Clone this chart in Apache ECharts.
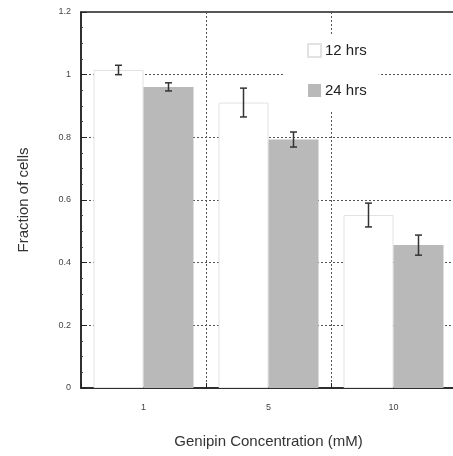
<!DOCTYPE html>
<html><head><meta charset="utf-8">
<script src="https://cdn.jsdelivr.net/npm/echarts@6/dist/echarts.min.js"></script>
<style>html,body{margin:0;padding:0;background:#fff;overflow:hidden}#c{width:456px;height:456px}</style>
</head><body><div id="c"></div>
<script>
var categories = ['1', '5', '10'];
var seriesNames = ['12 hrs', '24 hrs'];
var values12 = [1.015, 0.911, 0.552];
var errors12 = [0.015, 0.046, 0.038];
var values24 = [0.961, 0.793, 0.456];
var errors24 = [0.013, 0.024, 0.032];
var yTicks = [0, 0.2, 0.4, 0.6, 0.8, 1, 1.2];

var errData = [];
values12.forEach(function (v, i) { errData.push([i, v, errors12[i], -1]); });
values24.forEach(function (v, i) { errData.push([i, v, errors24[i], 1]); });

var chart = echarts.init(document.getElementById('c'), null, {renderer: 'canvas'});
chart.setOption({
  animation: false,
  backgroundColor: '#fff',
  textStyle: {fontFamily: 'Liberation Sans, Arial, sans-serif'},
  grid: {left: 81, top: 12, right: 0, bottom: 68, show: true, borderColor: '#222', borderWidth: 1.5, containLabel: false},
  legend: {
    orient: 'vertical', left: 285, top: 36, backgroundColor: '#fff',
    padding: [7, 12, 12, 22], itemGap: 25, itemWidth: 13, itemHeight: 13,
    icon: 'rect', textStyle: {fontSize: 15, color: '#222', fontFamily: 'Liberation Sans, Arial, sans-serif', padding: [0, 0, 0, -1]},
    data: seriesNames
  },
  xAxis: {
    type: 'category', data: categories,
    axisLine: {lineStyle: {color: '#222', width: 1.5}},
    axisTick: {show: true, inside: true, length: 5, lineStyle: {color: '#222'}},
    axisLabel: {fontSize: 9, color: '#444', margin: 15},
    splitLine: {show: true, lineStyle: {color: '#555', type: [2, 2], width: 1}},
    name: 'Genipin Concentration (mM)', nameLocation: 'middle', nameGap: 46,
    nameTextStyle: {fontSize: 15, color: '#333'}
  },
  yAxis: {
    type: 'value', min: 0, max: 1.2, interval: 0.2,
    axisLine: {show: true, lineStyle: {color: '#222', width: 1.5}},
    axisTick: {show: true, inside: true, length: 6, lineStyle: {color: '#222'}},
    minorTick: {show: true, splitNumber: 4, length: 2, lineStyle: {color: '#444'}},
    axisLabel: {fontSize: 9, color: '#444', margin: 10, formatter: function (v) {
      for (var i = 0; i < yTicks.length; i++) { if (Math.abs(yTicks[i] - v) < 1e-6) return String(yTicks[i]); }
      return '';
    }},
    splitLine: {show: true, lineStyle: {color: '#555', type: [2, 2], width: 1}},
    name: 'Fraction of cells', nameLocation: 'middle', nameGap: 50,
    nameTextStyle: {fontSize: 15, color: '#333'}
  },
  series: [
    {name: seriesNames[0], type: 'bar', data: values12, barWidth: 50, barGap: '0%',
     itemStyle: {color: '#fff', borderColor: '#e2e2e2', borderWidth: 1}},
    {name: seriesNames[1], type: 'bar', data: values24, barWidth: 50, barGap: '0%',
     itemStyle: {color: '#b9b9b9', borderColor: '#b9b9b9', borderWidth: 0}},
    {type: 'custom', data: errData, z: 10,
     renderItem: function (params, api) {
       var idx = api.value(0), v = api.value(1), e = api.value(2), side = api.value(3);
       var band = api.size([1, 0])[0];
       var off = side * band * 0.2;
       var top = api.coord([idx, v + e]);
       var bot = api.coord([idx, v - e]);
       var x = top[0] + off;
       var cw = 3.5;
       var st = {stroke: '#333', lineWidth: 1.5};
       return {type: 'group', children: [
         {type: 'line', shape: {x1: x, y1: top[1], x2: x, y2: bot[1]}, style: st},
         {type: 'line', shape: {x1: x - cw, y1: top[1], x2: x + cw, y2: top[1]}, style: st},
         {type: 'line', shape: {x1: x - cw, y1: bot[1], x2: x + cw, y2: bot[1]}, style: st}
       ]};
     }}
  ]
});
</script></body></html>
